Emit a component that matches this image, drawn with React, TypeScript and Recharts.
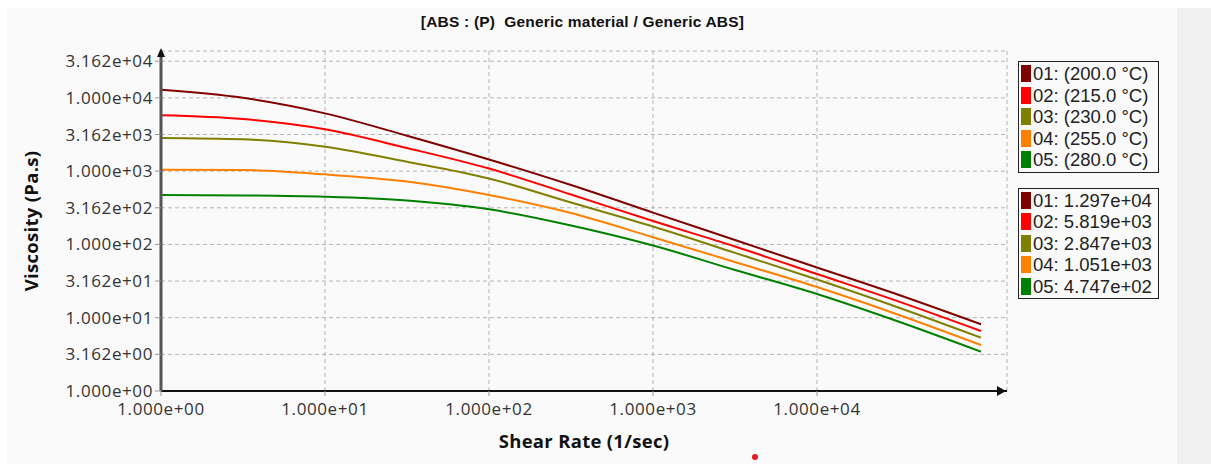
import { LineChart, Line, XAxis, YAxis, CartesianGrid, Legend } from 'recharts';

const shearRates = [1, 3.162, 10, 31.62, 100, 316.2, 1000, 3162, 10000, 31620, 100000];

const visc01 = [12900, 10000, 6145, 3040, 1440, 646, 272, 114.8, 48.4, 20.4, 8.13];
const visc02 = [5780, 5138, 3718, 2066, 1085, 480, 208.6, 93.6, 39.5, 16.6, 6.59];
const visc03 = [2830, 2716, 2153, 1344, 793, 373, 175.5, 76.8, 33.2, 13.7, 5.34];
const visc04 = [1045, 1035, 904, 721, 472, 268, 125.4, 57.5, 26.2, 10.9, 4.24];
const visc05 = [472, 466, 447, 397, 301, 181, 96.6, 44.8, 21.1, 8.82, 3.44];

const seriesNames = ['01: (200.0 °C)', '02: (215.0 °C)', '03: (230.0 °C)', '04: (255.0 °C)', '05: (280.0 °C)'];
const seriesColors = ['#800000', '#ff0000', '#808000', '#ff8000', '#008000'];
const zeroShearLabels = ['01: 1.297e+04', '02: 5.819e+03', '03: 2.847e+03', '04: 1.051e+03', '05: 4.747e+02'];

const xTicks = [1, 10, 100, 1000, 10000];
const yTicks = [1, 3.162, 10, 31.62, 100, 316.2, 1000, 3162, 10000, 31620];

const allSeries = [visc01, visc02, visc03, visc04, visc05];
const data = shearRates.map((rate, i) => {
  const row: Record<string, number> = { rate };
  allSeries.forEach((s, k) => {
    row[`s${k}`] = s[i];
  });
  return row;
});

const W = 1211;
const H = 464;
const margin = { top: 51, right: 204, bottom: 16, left: 8 };
const plotLeft = 161;
const plotBottom = 391;
const plotRight = W - margin.right;

function sci(v: number) {
  const e = Math.floor(Math.log10(v) + 1e-9);
  const m = v / Math.pow(10, e);
  return `${m.toFixed(3)}e${e >= 0 ? '+' : '-'}${String(Math.abs(e)).padStart(2, '0')}`;
}

const tickStyle = { fill: '#333', fontSize: 17, fontFamily: 'Open Sans', letterSpacing: 0.6 };
const titleStyle = { fill: '#111', fontSize: 18.5, fontWeight: 'bold', fontFamily: 'Open Sans', letterSpacing: 0.3 };

function LegendBox({ labels }: { labels: string[] }) {
  return (
    <div
      style={{
        border: '1.5px solid #222',
        padding: '1px 0 1px 2px',
        marginBottom: 15,
        fontFamily: 'Liberation Sans',
        fontSize: 18.5,
        color: '#222',
      }}
    >
      {labels.map((label, i) => (
        <div key={label} style={{ display: 'flex', alignItems: 'center', height: 21.5 }}>
          <span style={{ display: 'inline-block', width: 10, height: 17, background: seriesColors[i], marginRight: 2 }} />
          <span style={{ whiteSpace: 'nowrap', lineHeight: '21px' }}>{label}</span>
        </div>
      ))}
    </div>
  );
}

export default function App() {
  return (
    <div style={{ position: 'absolute', left: 0, top: 0, width: W, height: H, background: '#fff', overflow: 'hidden' }}>
      <div style={{ position: 'absolute', left: 7, top: 8, width: 1170, height: H - 8, background: '#fafafa' }} />
      <div style={{ position: 'absolute', left: 1177, top: 8, width: W - 1177, height: H - 8, background: '#f0f0f0' }} />
      <div
        style={{
          position: 'absolute',
          left: 0,
          width: 1165,
          top: 13,
          textAlign: 'center',
          fontFamily: 'Liberation Sans',
          fontWeight: 'bold',
          fontSize: 15.5,
          letterSpacing: 0.2,
          color: '#111',
          whiteSpace: 'pre',
        }}
      >
        {'[ABS : (P)  Generic material / Generic ABS]'}
      </div>
      <div style={{ position: 'absolute', left: 0, top: 0 }}>
        <LineChart width={W} height={H} data={data} margin={margin}>
          <CartesianGrid stroke="#b4b4b4" strokeDasharray="4 3" />
          <XAxis
            dataKey="rate"
            type="number"
            scale="log"
            domain={[1, 144000]}
            allowDataOverflow
            ticks={xTicks}
            tickFormatter={sci}
            tick={tickStyle}
            tickSize={5}
            tickMargin={7}
            height={57}
            axisLine={{ stroke: '#111', strokeWidth: 2 }}
            tickLine={{ stroke: '#999' }}
            label={{ value: 'Shear Rate (1/sec)', position: 'insideBottom', offset: 0, style: titleStyle }}
          />
          <YAxis
            type="number"
            scale="log"
            domain={[1, 43600]}
            allowDataOverflow
            ticks={yTicks}
            tickFormatter={sci}
            tick={tickStyle}
            tickSize={6}
            tickMargin={2}
            width={plotLeft - margin.left}
            axisLine={{ stroke: '#555', strokeWidth: 3 }}
            tickLine={{ stroke: '#999' }}
            label={{
              value: 'Viscosity (Pa.s)',
              angle: -90,
              position: 'insideLeft',
              offset: 23,
              style: { ...titleStyle, textAnchor: 'middle' },
            }}
          />
          <Legend
            layout="horizontal"
            verticalAlign="middle"
            align="center"
            wrapperStyle={{ left: 1018, top: 61, width: 141 }}
            content={() => (
              <div>
                <LegendBox labels={seriesNames} />
                <LegendBox labels={zeroShearLabels} />
              </div>
            )}
          />
          {seriesNames.map((name, k) => (
            <Line
              key={name}
              name={name}
              dataKey={`s${k}`}
              type="monotone"
              stroke={seriesColors[k]}
              strokeWidth={2}
              dot={false}
              isAnimationActive={false}
            />
          ))}
        </LineChart>
      </div>
      <svg style={{ position: 'absolute', left: 0, top: 0, pointerEvents: 'none' }} width={W} height={H}>
        <polygon points={`${plotRight - 10},${plotBottom - 5} ${plotRight - 1},${plotBottom} ${plotRight - 10},${plotBottom + 5}`} fill="#111" />
        <polygon points={`${plotLeft - 4},${margin.top + 6} ${plotLeft},${margin.top - 3} ${plotLeft + 4},${margin.top + 6}`} fill="#111" />
        <circle cx={755} cy={457} r={3} fill="#e51c1c" />
      </svg>
    </div>
  );
}
